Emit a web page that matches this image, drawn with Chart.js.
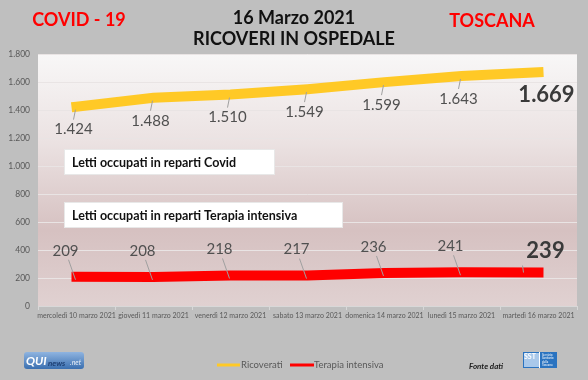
<!DOCTYPE html>
<html><head><meta charset="utf-8">
<script src="https://cdn.jsdelivr.net/npm/chart.js@4"></script>
<style>html,body{margin:0;padding:0;background:#bfbfbf;}#wrap{width:588px;height:380px;position:relative;}</style>
</head><body><div id="wrap"><canvas id="c" width="588" height="380"></canvas></div>
<script>
const categories = ["mercoledì 10 marzo 2021","giovedì 11 marzo 2021","venerdì 12 marzo 2021","sabato 13 marzo 2021","domenica 14 marzo 2021","lunedì 15 marzo 2021","martedì 16 marzo 2021"];
const ricoverati = [1424,1488,1510,1549,1599,1643,1669];
const terapiaIntensiva = [209,208,218,217,236,241,239];
const yTicks = [0,200,400,600,800,1000,1200,1400,1600,1800];
const titleLines = ["16 Marzo 2021","RICOVERI IN OSPEDALE"];
const seriesNames = ["Ricoverati","Terapia intensiva"];
const boxTexts = ["Letti occupati in reparti Covid","Letti occupati in reparti Terapia intensiva"];

function fmt(v){return String(v).replace(/\B(?=(\d{3})+(?!\d))/g,".");}
const FONT = 'Lato, "Open Sans", sans-serif';

const deco = {
  id:'deco',
  beforeDraw(chart){
    const ctx=chart.ctx, a=chart.chartArea;
    ctx.save();
    ctx.fillStyle='#bfbfbf';ctx.fillRect(0,0,chart.width,chart.height);
    const g=ctx.createLinearGradient(0,a.top,0,a.bottom);
    g.addColorStop(0,'#f8f7f7');
    g.addColorStop(0.35,'#ebe2e2');
    g.addColorStop(0.7,'#d6c1c1');
    g.addColorStop(1,'#e0d1d1');
    ctx.fillStyle=g;ctx.fillRect(a.left,a.top,a.right-a.left,a.bottom-a.top);
    ctx.restore();
  },
  afterDraw(chart){
    const ctx=chart.ctx;
    const xs=chart.scales.x, ys=chart.scales.y;
    ctx.save();
    // titles
    ctx.textAlign='center';ctx.textBaseline='middle';
    ctx.fillStyle='#111';ctx.font='bold 18px '+FONT;
    ctx.fillText(titleLines[0],294,18);
    ctx.fillText(titleLines[1],294,39);
    ctx.fillStyle='#ff0000';ctx.font='bold 18px '+FONT;
    ctx.fillText('COVID - 19',79,20);
    ctx.fillText('TOSCANA',492,21);
    // annotation boxes
    ctx.font='bold 12.5px '+FONT;ctx.textAlign='left';
    const boxes=[[64,149,210,25],[64,202,278,25]];
    boxes.forEach((b,i)=>{
      ctx.fillStyle='#ffffff';ctx.fillRect(b[0],b[1],b[2],b[3]);
      ctx.strokeStyle='#e8e8e8';ctx.lineWidth=1;ctx.strokeRect(b[0]+0.5,b[1]+0.5,b[2],b[3]);
      ctx.fillStyle='#111';ctx.fillText(boxTexts[i],b[0]+8,b[1]+b[3]/2+1);
    });
    // data labels: yellow below the line, red above
    ctx.textAlign='center';ctx.textBaseline='middle';
    ricoverati.forEach((v,i)=>{
      const x=xs.getPixelForValue(i), y=ys.getPixelForValue(v);
      const last=i===ricoverati.length-1;
      ctx.fillStyle=last?'#3a3a3a':'#505050';
      ctx.font=(last?'bold 22px ':'15px ')+FONT;
      const tx=last?x+8:x-3, ty=y+23;
      ctx.fillText(fmt(v),tx,ty);
      if(!last){
        ctx.strokeStyle='#a0a0a0';ctx.lineWidth=1;ctx.beginPath();
        ctx.moveTo(x-1,y+3);ctx.lineTo(x-3,y+13);ctx.stroke();
      }
    });
    terapiaIntensiva.forEach((v,i)=>{
      const x=xs.getPixelForValue(i), y=ys.getPixelForValue(v);
      const last=i===terapiaIntensiva.length-1;
      ctx.fillStyle=last?'#3a3a3a':'#505050';
      ctx.font=(last?'bold 22px ':'15px ')+FONT;
      const tx=last?x+7:x-11, ty=last?y-22:y-26;
      ctx.fillText(fmt(v),tx,ty);
      ctx.strokeStyle='#a0a0a0';ctx.lineWidth=1;ctx.beginPath();
      if(last){ctx.moveTo(x-16,y-7);ctx.lineTo(x-15,y);}
      else {ctx.moveTo(x-1,y+3);ctx.lineTo(x-8,y-17);}
      ctx.stroke();
    });
    // legend
    ctx.lineWidth=3;
    ctx.strokeStyle='#ffc926';ctx.beginPath();ctx.moveTo(217,365);ctx.lineTo(240,365);ctx.stroke();
    ctx.strokeStyle='#ff0000';ctx.beginPath();ctx.moveTo(290,365);ctx.lineTo(314,365);ctx.stroke();
    ctx.fillStyle='#595959';ctx.font='9.5px '+FONT;ctx.textAlign='left';ctx.textBaseline='middle';
    ctx.fillText(seriesNames[0],241,365);
    ctx.fillText(seriesNames[1],314,365);
    // fonte dati
    ctx.fillStyle='#222';ctx.font='italic bold 8px '+FONT;
    ctx.fillText('Fonte dati',469,366);
    // QUInews logo
    const lg=ctx.createLinearGradient(0,352,0,369);
    lg.addColorStop(0,'#8fb4e0');lg.addColorStop(1,'#3a6fb0');
    ctx.fillStyle=lg;
    ctx.beginPath();ctx.roundRect(24,352,60,17,3);ctx.fill();
    ctx.fillStyle='#fff';ctx.font='bold italic 12px '+FONT;ctx.fillText('QUI',26,361);
    ctx.font='bold italic 8px '+FONT;ctx.fillStyle='#1d3f73';ctx.fillText('news',48,363);
    ctx.fillStyle='#e6eef8';ctx.font='italic 7px '+FONT;ctx.fillText('.net',70,363);
    // SST logo
    ctx.fillStyle='#2a73c0';ctx.fillRect(523,352,34,16);
    ctx.fillStyle='#a9c8ea';ctx.fillRect(524,353,15,14);
    ctx.fillStyle='#fff';ctx.font='bold 7px '+FONT;ctx.fillText('SST',524,357);
    ctx.fillRect(539,352,1,16);
    ctx.font='3px '+FONT;
    ['Servizio','Sanitario','della','Toscana'].forEach((t,i)=>ctx.fillText(t,542,355+i*3.5));
    ctx.restore();
  }
};

new Chart(document.getElementById('c'),{
  type:'line',
  data:{labels:categories,datasets:[
    {label:seriesNames[0],data:ricoverati,borderColor:'#ffc926',backgroundColor:'#ffc926',borderWidth:10,pointRadius:0,tension:0,borderCapStyle:'square'},
    {label:seriesNames[1],data:terapiaIntensiva,borderColor:'#ff0000',backgroundColor:'#ff0000',borderWidth:10,pointRadius:0,tension:0,borderCapStyle:'square'}
  ]},
  options:{
    responsive:false,animation:false,devicePixelRatio:1,
    layout:{padding:{top:54,right:11,left:0,bottom:0}},
    plugins:{legend:{display:false},title:{display:false},tooltip:{enabled:false}},
    scales:{
      x:{offset:true,
        grid:{display:true,drawOnChartArea:false,offset:true,color:'#d8d8d8',tickLength:4},
        border:{display:true,color:'#d8d8d8'},
        ticks:{maxRotation:0,autoSkip:false,color:'#595959',font:{size:7,family:FONT},padding:2},
        afterFit(s){s.height=74;}
      },
      y:{min:0,max:1800,
        afterBuildTicks(s){s.ticks=yTicks.map(v=>({value:v}));},
        grid:{color:'#e9e4e4',drawTicks:false},
        border:{display:false},
        ticks:{color:'#595959',font:{size:8.5,family:FONT},padding:8,callback:v=>fmt(v)},
        afterFit(s){s.width=38;}
      }
    }
  },
  plugins:[deco]
});
</script></body></html>
